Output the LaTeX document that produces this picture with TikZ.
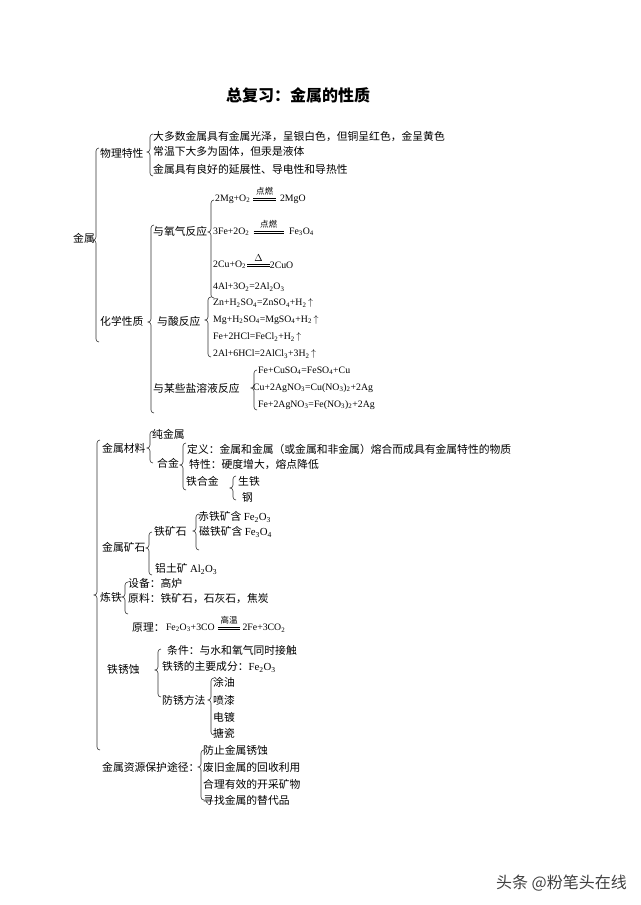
\documentclass[tikz,border=0pt]{standalone}
\usepackage{fontspec}
\setmainfont{Noto Sans CJK SC}
\newfontfamily\chemfont{Liberation Serif}
\usetikzlibrary{positioning}
\newcommand\xb[1]{\textsubscript{#1}}
% brace: x, top, tip, bottom
\newcommand\kuo[4]{%
  \draw[bracel] ({#1+3},#2) to[out=180,in=90] (#1,{#2+3}) -- (#1,{#3-3})
    to[out=-90,in=0] ({#1-3},#3) to[out=0,in=90] (#1,{#3+3})
    -- (#1,{#4-3}) to[out=-90,in=180] ({#1+3},#4);}
% double bar of a reaction sign, drawn across a node
\newcommand\dengbar[1]{%
  \draw[eqline] ([yshift=1pt]#1.west) -- ([yshift=1pt]#1.east);
  \draw[eqline] ([yshift=-1pt]#1.west) -- ([yshift=-1pt]#1.east);}

\begin{document}
\begin{tikzpicture}[x=1pt, y=-1pt,
  txt/.style={anchor=west, inner sep=0pt, font=\fontsize{10.8}{12}\selectfont},
  chem/.style={anchor=west, inner sep=0pt, font=\fontsize{9.8}{11}\chemfont},
  cond/.style={inner sep=0pt, font=\fontsize{8.5}{9}\selectfont},
  eqbar/.style={minimum width=22pt, minimum height=2pt, inner sep=0pt},
  eqline/.style={line width=0.6pt, black},
  bracel/.style={line width=0.6pt, black!80}]
  \useasboundingbox (0,0) rectangle (640,905);
  \node[font=\fontsize{16}{18}\selectfont\bfseries] (title) at (298,95) {总复习：金属的性质};

  % physical / chemical properties
  \node[txt] (jinshu) at (73,238) {金属};
  \kuo{96}{148}{240}{342}
  \node[txt] (wuli) at (100,153) {物理特性};
  \kuo{150}{134}{152}{176}
  \node[txt] (wl1) at (153,136) {大多数金属具有金属光泽，呈银白色，但铜呈红色，金呈黄色};
  \node[txt] (wl2) at (153,152) {常温下大多为固体，但汞是液体};
  \node[txt] (wl3) at (153,169) {金属具有良好的延展性、导电性和导热性};
  \node[txt] (huaxue) at (100,321) {化学性质};
  \kuo{151}{225}{322}{413}

  \node[txt] (yang) at (153,231) {与氧气反应};
  \kuo{211}{200}{232}{298}
  \node[chem] (o1a) at (215,199) {2Mg+O\xb2};
  \node[eqbar, right=3pt of o1a] (o1c) {};
  \dengbar{o1c}
  \node[cond, above=2.5pt of o1c] {点燃};
  \node[chem, right=4pt of o1c] (o1b) {2MgO};
  \node[chem] (o2a) at (213,232) {3Fe+2O\xb2};
  \node[eqbar, minimum width=30pt, right=4pt of o2a] (o2c) {};
  \dengbar{o2c}
  \node[cond, above=2.5pt of o2c] {点燃};
  \node[chem, right=5pt of o2c] (o2b) {Fe\xb3O\xb4};
  \node[chem] (o3a) at (213,265) {2Cu+O\xb2};
  \node[eqbar, right=1pt of o3a] (o3c) {};
  \dengbar{o3c}
  \node[cond, font=\fontsize{10}{10}\selectfont, above=2pt of o3c] {$\Delta$};
  \node[chem, right=0pt of o3c] (o3b) {2CuO};
  \node[chem] (o4) at (213,287) {4Al+3O\xb2=2Al\xb2O\xb3};

  \node[txt] (suan) at (157,321) {与酸反应};
  \kuo{208}{297}{320}{357}
  \node[chem] (s1) at (213,303) {Zn+H\xb2SO\xb4=ZnSO\xb4+H\xb2\,$\uparrow$};
  \node[chem] (s2) at (213,320) {Mg+H\xb2SO\xb4=MgSO\xb4+H\xb2\,$\uparrow$};
  \node[chem] (s3) at (213,337) {Fe+2HCl=FeCl\xb2+H\xb2\,$\uparrow$};
  \node[chem] (s4) at (213,354) {2Al+6HCl=2AlCl\xb3+3H\xb2\,$\uparrow$};

  \node[txt] (yan) at (153,388) {与某些盐溶液反应};
  \kuo{254}{370}{388}{410}
  \node[chem] (y1) at (258,371) {Fe+CuSO\xb4=FeSO\xb4+Cu};
  \node[chem] (y2) at (253,388) {Cu+2AgNO\xb3=Cu(NO\xb3)\xb2+2Ag};
  \node[chem] (y3) at (258,405) {Fe+2AgNO\xb3=Fe(NO\xb3)\xb2+2Ag};

  % materials, ores, smelting, rust, protection
  \kuo{97}{440}{595}{750}
  \node[txt] (cailiao) at (102,448) {金属材料};
  \kuo{150}{431}{448}{463}
  \node[txt] (chun) at (152,434) {纯金属};
  \node[txt] (hejin) at (157,463) {合金};
  \kuo{183}{443}{465}{490}
  \node[txt] (dingyi) at (187,449) {定义：金属和金属（或金属和非金属）熔合而成具有金属特性的物质};
  \node[txt] (texing) at (189,465) {特性：硬度增大，熔点降低};
  \node[txt] (tiehj) at (186,481) {铁合金};
  \kuo{233}{476}{488}{500}
  \node[txt] (sheng) at (238,481) {生铁};
  \node[txt] (gang) at (242,497) {钢};

  \node[txt] (kuangshi) at (102,547) {金属矿石};
  \kuo{149}{532}{548}{575}
  \node[txt] (tiek) at (154,531) {铁矿石};
  \kuo{196}{514}{531}{550}
  \node[txt] (chi) at (198,517) {赤铁矿含 {\chemfont Fe\xb2O\xb3}};
  \node[txt] (ci) at (199,532) {磁铁矿含 {\chemfont Fe\xb3O\xb4}};
  \node[txt] (lv) at (155,569) {铝土矿 {\chemfont Al\xb2O\xb3}};

  \node[txt] (liantie) at (100,597) {炼铁};
  \kuo{125}{582}{597}{614}
  \node[txt] (shebei) at (128,583) {设备：高炉};
  \node[txt] (yuanliao) at (128,599) {原料：铁矿石，石灰石，焦炭};
  \node[txt] (yuanli) at (132,628) {原理：};
  \node[chem, right=1pt of yuanli] (yl1) {Fe\xb2O\xb3+3CO};
  \node[eqbar, right=3pt of yl1] (ylc) {};
  \dengbar{ylc}
  \node[cond, above=2.5pt of ylc] {高温};
  \node[chem, right=2pt of ylc] (yl2) {2Fe+3CO\xb2};

  \node[txt] (xiushi) at (107,669) {铁锈蚀};
  \kuo{158}{649}{670}{697}
  \node[txt] (tiaojian) at (167,650) {条件：与水和氧气同时接触};
  \node[txt] (tiexiu) at (162,667) {铁锈的主要成分：{\chemfont Fe\xb2O\xb3}};
  \node[txt] (fangxiu) at (162,700) {防锈方法};
  \kuo{211}{678}{700}{735}
  \node[txt] (f1) at (213,682) {涂油};
  \node[txt] (f2) at (213,700) {喷漆};
  \node[txt] (f3) at (213,717) {电镀};
  \node[txt] (f4) at (213,733) {搪瓷};

  \node[txt] (baohu) at (102,767) {金属资源保护途径：};
  \kuo{201}{750}{767}{800}
  \node[txt] (b1) at (203,750) {防止金属锈蚀};
  \node[txt] (b2) at (203,767) {废旧金属的回收利用};
  \node[txt] (b3) at (203,784) {合理有效的开采矿物};
  \node[txt] (b4) at (203,800) {寻找金属的替代品};

  \node[anchor=east, inner sep=0pt, text=black!75, font=\fontsize{16}{18}\selectfont] (mark) at (627,883) {头条 @粉笔头在线};
\end{tikzpicture}
\end{document}
